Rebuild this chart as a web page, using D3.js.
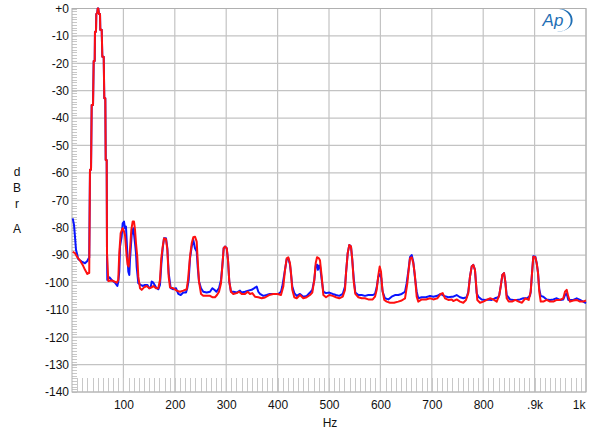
<!DOCTYPE html>
<html><head><meta charset="utf-8">
<script src="https://cdn.jsdelivr.net/npm/d3@7"></script>
<style>body{margin:0;background:#fff}svg{display:block}text{font-family:"Liberation Sans",Arial,sans-serif}</style>
</head><body>
<script>
const yTicks = [0,-10,-20,-30,-40,-50,-60,-70,-80,-90,-100,-110,-120,-130,-140];
const yTickLabels = ["+0","-10","-20","-30","-40","-50","-60","-70","-80","-90","-100","-110","-120","-130","-140"];
const xTicks = [100,200,300,400,500,600,700,800,900,1000];
const xTickLabels = ["100","200","300","400","500","600","700","800",".9k","1k"];
const yTitle = ["d","B","r","","A"];
const xTitle = "Hz";

const peakHz = [35,37,38.3,40.9,42.2,44.2,44.7,46.7,47.3,49.2,50,51.2,52.5,54.5,55.1,57.8,59,61.7,62.8,64.8,65.6,67.5,68.1];
const peakDb = [-58.9,-58.9,-35.2,-35.2,-19.2,-19.2,-8.5,-8.5,-2,-1.5,0,0,-2,-2,-7.8,-7.8,-17.6,-17.6,-32.8,-32.8,-55.3,-55.3,-89.3];

const redHz = [1.4,5.8,10.3,15.6,20.8,25.3,29.8,32.5,33.5].concat(peakHz).concat([70.6,78,84,87,90,92,94.7,98.6,101.2,103.1,106.4,108.3,110.3,112.8,115.4,118,120.6,122.6,124.5,127,129,132.3,135.6,140.1,145.3,150.4,155,158.2,163.4,167.9,171.2,173.7,176.5,179,182.9,185.5,188.1,190.7,197.1,203.6,210.1,216.5,223.1,225.7,229.6,232.9,236,239.3,242.6,244.5,247.1,251,255.4,262,268.5,273,278.2,282.1,286,289.9,292.4,295.1,297.7,301,303.5,306,309.3,313.8,320.4,324.9,330.2,336.6,341.8,346.3,350.8,356,362.5,369,375.5,383.3,391.6,400.1,406.6,411.1,414.4,417.7,420.8,424.1,426.1,428.6,432.5,437.2,443.6,450,456.6,463,467.5,471.4,474.1,476.7,480.5,482.5,485.8,489,494.2,500.6,507.2,513.6,520,526.7,531.1,533.1,536.4,539.5,542.8,545.3,548.1,551.2,557.1,563.6,570,576.5,585,589.5,592.8,596,598.6,601.2,603.8,607.6,612.3,618.7,626.5,634.8,641.4,647.9,652.4,655,657.6,660.9,664,666.7,670.6,673.7,680.4,688.7,696.5,703,710.7,717.3,721.2,725.7,732.2,738.7,741.8,748.4,754.9,761.3,766.5,771,774.3,777.6,780.7,784,786,788.5,793.8,800.2,806.8,813.2,819.6,826.3,831.3,834,837.2,840.5,843,845.7,849.6,856,862.5,869,875.5,881.9,888.5,892.4,895,897.5,901.4,904.1,906.6,909.1,911.9,917,923.5,930,936.5,943,949.5,955.8,959.1,962.4,965.6,968.9,975.3,981.9,988.3,994.8,1000]);
const redDb = [-88.8,-89.3,-90.8,-92,-93.6,-95.4,-96.9,-96.6,-96.6].concat(peakDb).concat([-99.5,-99.3,-99.8,-100.1,-99.1,-89.3,-82,-80.2,-81.4,-82.7,-90.6,-93.6,-94.2,-88.1,-80.8,-77.8,-77.8,-80.8,-85.7,-90.6,-97.9,-102.1,-102.7,-101.8,-101.3,-102.1,-101.8,-101.3,-102.1,-102.1,-99.1,-91.2,-86.9,-83.9,-84.2,-88.1,-97.9,-101.8,-102.1,-103,-103.4,-103,-102.5,-99.1,-90.6,-85.7,-83.5,-83.3,-85.1,-91.8,-99.7,-104.2,-104.9,-104.9,-104.9,-105.4,-105.4,-104.6,-103.4,-100.3,-94.2,-87.5,-86.9,-87.5,-91.8,-99.7,-103.4,-104.2,-103.9,-103.4,-104.2,-104.2,-103.4,-104.2,-103.9,-105.2,-105.4,-105.8,-105.5,-104.6,-104.2,-104.2,-104.6,-101.5,-95.4,-91.2,-90.8,-93,-96.6,-102.7,-105.4,-105.8,-104.6,-105.8,-105.4,-104.6,-103.7,-99.1,-93,-90.8,-91.2,-92,-97.9,-104.6,-105.4,-104.6,-104.9,-105.4,-105.8,-105.2,-102.7,-96.6,-89.3,-86.3,-86.9,-91.8,-99.7,-104.2,-105.4,-105.8,-105.8,-106.2,-106.2,-105.2,-102.7,-97.3,-94.2,-96.1,-102.7,-106.4,-107,-107.4,-107.4,-107,-106.6,-105.8,-100.3,-95.4,-91.2,-90.8,-93,-96.6,-105.2,-107,-106.2,-106.2,-105.8,-106.2,-105.8,-104.2,-103.9,-105.8,-106.4,-106.2,-106.8,-106.2,-107,-107.4,-106.4,-103.9,-97.9,-94.2,-93.6,-95.4,-100.3,-106.4,-107.4,-107,-106.4,-105.8,-106.2,-107,-104.6,-101.5,-97.3,-96.6,-99.7,-105.8,-107,-107,-106.4,-107,-107.4,-105.8,-106.4,-103.4,-96.6,-90.6,-90.8,-93,-96.4,-103.4,-107,-107,-106.4,-107,-107,-106.4,-106.4,-105.8,-103.4,-102.7,-105.2,-107,-106.6,-106.4,-107,-107,-106.6]);

const blueHz = [1.4,3.9,5.8,7.8,12.3,18.9,25.3,29.8,32.5,33.5].concat(peakHz).concat([68.7,72.6,77.2,83.7,88.2,90.1,92,93.4,96.6,98.6,101.2,103.1,105,107.6,109.6,111.5,112.8,116.1,119.3,122.6,124.5,125.8,129,133.6,137.5,142,146.5,150.4,153.1,155,158.2,163.4,167.9,171.2,173.7,176.5,179,182.9,185.5,188.1,192,197.1,202.3,206.8,211.5,216.5,221.8,224.3,227,229.6,232.9,236,239.3,242.6,244.5,247.1,251,255.4,262,268.5,273,277,281,286,289.9,292.4,295.1,297.7,301,303.5,306,309.3,313.8,320.4,326.8,330.2,336.6,343,349.5,354.7,359.3,362.5,365.8,372.2,378.7,385.1,395,401.4,406.6,409.1,414.4,417.7,420.8,424.1,426.1,428.6,432.5,437.2,443.6,450,456.6,463,467.5,471.4,474.1,476.7,478.5,480.5,482.5,485.8,489,494.2,500.6,507.2,513.6,520,526.7,531.1,533.1,536.4,539.5,542.8,545.3,548.1,551.2,557.1,563.6,570,576.5,585,589.5,592.8,596,599.2,601.8,604.4,608.9,615.4,621.9,628.4,634.8,641.4,647.9,651.1,655,657.6,660.9,664,666.7,670.6,673.7,680.4,688.7,696.5,703,710.7,717.3,723.6,732.2,738.7,741.8,748.4,754.9,761.3,767.8,771,774.3,777.6,780.7,784,787.3,790.5,797,803.5,810,816.4,822.9,829.4,831.3,834,837.2,840.5,843,845.7,852.1,858.6,865,871.5,878,885.8,891,892.4,895,897.5,901.4,904.1,906.6,909.1,911.9,917,923.5,930,936.5,943,949.5,955.8,959.1,962.4,965.6,975.3,981.9,988.3,994.8,1000]);
const blueDb = [-76.6,-79,-83.3,-88.1,-91.5,-92.4,-93,-92.2,-91.2,-91].concat(peakDb).concat([-99.1,-98.1,-99.1,-100.1,-101.3,-99.7,-96,-86.9,-83.3,-78.4,-77.8,-80.2,-79.6,-89.3,-96.1,-97.3,-91.8,-82.7,-80.2,-85.7,-89.3,-94.2,-100.3,-100.9,-101.3,-100.9,-100.9,-102.1,-101.8,-99.7,-100.1,-101.8,-102.5,-100.9,-93.6,-87.5,-83.9,-83.9,-87.5,-96.6,-102.1,-102.5,-102.1,-104.2,-104.6,-103.7,-103.7,-102.1,-99.1,-91.2,-86.9,-84.5,-87.5,-88.7,-94.2,-99.7,-102.1,-103.4,-103.7,-103.4,-102.1,-102.7,-103.4,-102.1,-99.1,-94.2,-87.5,-86.9,-87.5,-91.8,-99.7,-103.4,-103.4,-103.7,-103,-103.7,-103.4,-103,-102.7,-102.1,-101.5,-103.4,-104.2,-104.9,-104.6,-104.2,-104.2,-104.2,-103.4,-101.5,-95.4,-91.5,-91.2,-93.5,-97,-101.5,-103.9,-104.9,-104.2,-105.2,-104.9,-103.7,-102.7,-99.1,-94,-93.5,-95.4,-93.8,-94,-99,-103.4,-103.9,-103.7,-104.2,-104.6,-104.9,-104.2,-101.5,-96.6,-89.3,-86.3,-86.9,-91.8,-98.5,-103.7,-104.6,-104.6,-104.9,-104.6,-104.6,-104.2,-101.8,-97.9,-96.9,-98.5,-103.4,-105.8,-106.2,-105.2,-104.6,-104.6,-104.2,-103.4,-100.3,-95,-90.8,-90,-92.5,-97.3,-103.4,-105.8,-105.4,-105.4,-104.9,-105.2,-104.9,-104.2,-104.9,-105.4,-105.2,-105.2,-104.6,-105.4,-105.8,-105.4,-103.4,-97.9,-94.2,-93.6,-95.4,-103.9,-105.2,-106.2,-106.4,-106.2,-106.4,-105.8,-105.4,-104.6,-101.5,-97.3,-96.6,-99.7,-104.6,-106.2,-106.4,-106.4,-106.2,-105.8,-105.8,-104.9,-103.4,-96.6,-90.4,-90.6,-93,-96.4,-102.5,-104.9,-105.2,-106.2,-106.4,-106.2,-105.8,-106.4,-106.2,-104.6,-104,-106.4,-106.4,-105.8,-106.4,-107,-107.6]);

const W = 600, H = 436;
const x = d3.scaleLinear().domain([0,1000]).range([72,586]);
const y = d3.scaleLinear().domain([-140,0]).range([392,8.5]);

const svg = d3.select("body").append("svg").attr("width",W).attr("height",H);

// grid
const grid = svg.append("g").attr("stroke","#c3c3c3").attr("stroke-width",1.2);
grid.selectAll(".gy").data(yTicks).join("line")
  .attr("x1",x(0)).attr("x2",x(1000)).attr("y1",d=>y(d)).attr("y2",d=>y(d));
grid.selectAll(".gx").data(xTicks).join("line")
  .attr("y1",y(0)).attr("y2",y(-140)).attr("x1",d=>x(d)).attr("x2",d=>x(d));

// minor ticks
const minorY = d3.range(-140,0.5,1);
svg.append("g").attr("stroke","#c8c8c8").attr("stroke-width",1)
  .selectAll("line").data(minorY).join("line")
  .attr("x1",x(0)).attr("x2",x(0)+5).attr("y1",d=>Math.round(y(d))+0.5).attr("y2",d=>Math.round(y(d))+0.5);
const minorX = d3.range(10,1000,10);
svg.append("g").attr("stroke","#c8c8c8").attr("stroke-width",1)
  .selectAll("line").data(minorX).join("line")
  .attr("y1",y(-140)).attr("y2",y(-140)-14).attr("x1",d=>Math.round(x(d))+0.5).attr("x2",d=>Math.round(x(d))+0.5);

// frame
svg.append("rect").attr("x",x(0)).attr("y",y(0)).attr("width",x(1000)-x(0)).attr("height",y(-140)-y(0))
  .attr("fill","none").attr("stroke","#b0b0b0").attr("stroke-width",1);

// axes labels
const yAxis = d3.axisLeft(y).tickValues(yTicks).tickSize(0).tickPadding(3)
  .tickFormat((d,i)=>yTickLabels[i]);
const gy = svg.append("g").attr("transform",`translate(${x(0)},0)`).call(yAxis);
gy.select(".domain").remove();
gy.selectAll("text").attr("font-size",12).attr("fill","#111").attr("font-family","Liberation Sans, Arial, sans-serif");

const xAxis = d3.axisBottom(x).tickValues(xTicks).tickSize(0).tickPadding(8)
  .tickFormat((d,i)=>xTickLabels[i]);
const gx = svg.append("g").attr("transform",`translate(0,${y(-140)})`).call(xAxis);
gx.select(".domain").remove();
gx.selectAll("text").attr("font-size",12).attr("fill","#111").attr("font-family","Liberation Sans, Arial, sans-serif");
gx.selectAll(".tick").filter(d=>d===1000).select("text").attr("text-anchor","end").attr("dx",-1);

svg.append("text").attr("x",330).attr("y",427).attr("text-anchor","middle").attr("font-size",12).attr("fill","#111").text(xTitle);
svg.append("g").selectAll("text").data(yTitle).join("text")
  .attr("x",17).attr("y",(d,i)=>[176,192,208,0,233][i]).attr("text-anchor","middle")
  .attr("font-size",12).attr("fill","#111").text(d=>d);

// series
const line = d3.line().x(d=>x(d[0])).y(d=>y(d[1]));
const blue = blueHz.map((h,i)=>[h,blueDb[i]]);
const red = redHz.map((h,i)=>[h,redDb[i]]);
const plot = svg.append("g");
plot.append("path").datum(blue).attr("d",line).attr("fill","none").attr("stroke","#0a14ff").attr("stroke-width",2).attr("stroke-linejoin","round");
plot.append("path").datum(red).attr("d",line).attr("fill","none").attr("stroke","#ff1010").attr("stroke-width",2).attr("stroke-linejoin","round");

// AP logo
const logo = svg.append("g").attr("transform","translate(556,20)");
logo.append("text").attr("x",-3).attr("y",6).attr("text-anchor","middle").attr("font-size",17)
  .attr("font-style","italic").attr("fill","#1f6fb5").text("Ap");
logo.append("path").attr("d","M 3 -11 A 12 11 0 0 1 6 11 L 1 12 A 11 10 0 0 0 3 -11 Z").attr("fill","#1f6fb5");
</script>
</body></html>
